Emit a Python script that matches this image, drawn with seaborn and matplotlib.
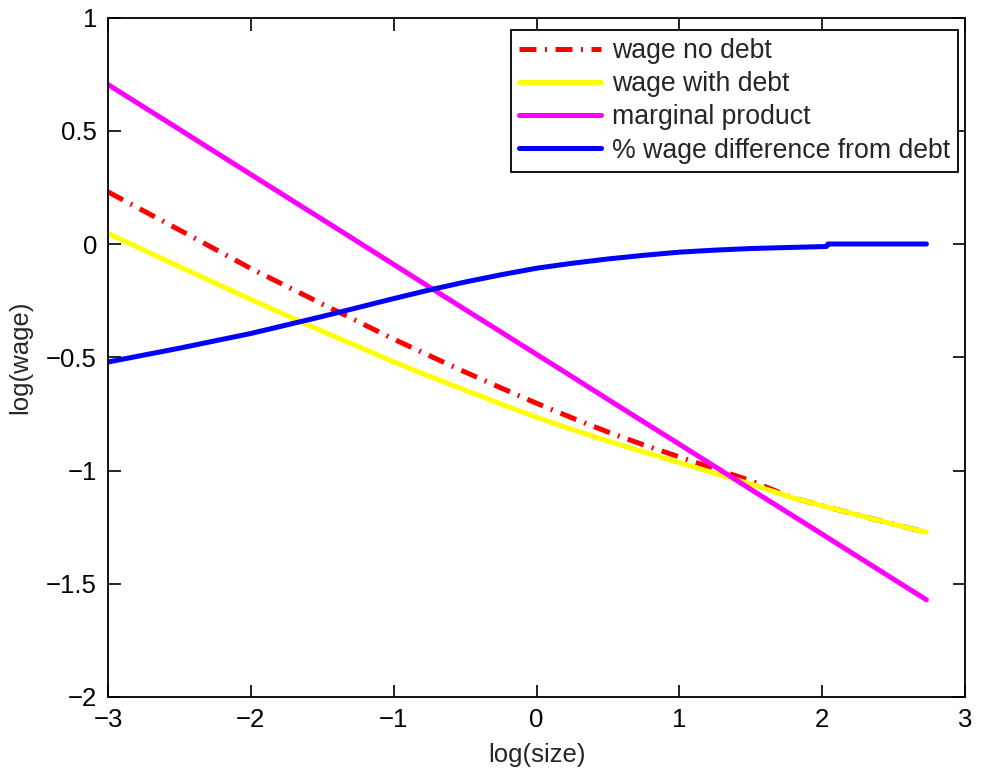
import matplotlib
matplotlib.use("Agg")
import matplotlib.pyplot as plt
import seaborn as sns
import pandas as pd

# log firm size grid
log_size = [-3.0, -2.5, -2.0, -1.5, -1.0, -0.75, -0.5, -0.25, 0.0, 0.25, 0.5, 0.75, 1.0,
            1.25, 1.5, 1.79, 2.03, 2.04, 2.5, 2.73]

# log wage series
wage_no_debt = [0.230, 0.062, -0.108, -0.265, -0.420, -0.493, -0.565, -0.635, -0.703,
                -0.768, -0.830, -0.887, -0.940, -0.993, -1.045, -1.120, -1.160, -1.162,
                -1.237, -1.273]
wage_with_debt = [0.047, -0.100, -0.245, -0.385, -0.520, -0.584, -0.645, -0.706, -0.765,
                  -0.819, -0.870, -0.918, -0.965, -1.013, -1.060, -1.120, -1.160, -1.162,
                  -1.237, -1.273]
marginal_product = [0.704, 0.506, 0.307, 0.109, -0.090, -0.190, -0.289, -0.388, -0.487,
                    -0.586, -0.686, -0.785, -0.884, -0.983, -1.083, -1.198, -1.293, -1.297,
                    -1.480, -1.571]
wage_diff_pct = [-0.521, -0.460, -0.395, -0.320, -0.241, -0.203, -0.168, -0.136, -0.107,
                 -0.085, -0.066, -0.050, -0.036, -0.027, -0.020, -0.015, -0.011, 0.0,
                 0.0, 0.0]

labels = ["wage no debt", "wage with debt", "marginal product", "% wage difference from debt"]
x_ticks = [-3, -2, -1, 0, 1, 2, 3]
y_ticks = [-2, -1.5, -1, -0.5, 0, 0.5, 1]

df = pd.DataFrame({
    "log_size": log_size,
    labels[0]: wage_no_debt,
    labels[1]: wage_with_debt,
    labels[2]: marginal_product,
    labels[3]: wage_diff_pct,
})

sns.set_theme(style="white")
plt.rcParams["font.family"] = ["Liberation Sans", "DejaVu Sans"]
plt.rcParams["axes.unicode_minus"] = True

fig = plt.figure(figsize=(9.82, 7.74), dpi=100)
ax = fig.add_axes([108 / 982, 77 / 774, 857 / 982, 679.5 / 774])

lw = 3.6
sns.lineplot(data=df, x="log_size", y=labels[0], ax=ax, color=(1, 0, 0), lw=lw,
             label=labels[0], linestyle=(0, (3.4, 1.7, 0.4, 1.7)))
sns.lineplot(data=df, x="log_size", y=labels[1], ax=ax, color=(1, 1, 0), lw=lw,
             label=labels[1])
sns.lineplot(data=df, x="log_size", y=labels[2], ax=ax, color=(1, 0, 1), lw=lw,
             label=labels[2])
sns.lineplot(data=df, x="log_size", y=labels[3], ax=ax, color=(0, 0, 1), lw=lw,
             label=labels[3])

ax.set_xlim(-3, 3)
ax.set_ylim(-2, 1)
ax.set_xticks(x_ticks)
ax.set_yticks(y_ticks)
ax.set_xticklabels([f"{t:g}".replace("-", "\u2212") for t in x_ticks])
ax.set_yticklabels([f"{t:g}".replace("-", "\u2212") for t in y_ticks])

ax.tick_params(direction="in", length=9, width=1.2, colors="black", labelsize=18.5,
               top=True, right=True, bottom=True, left=True, pad=8)
for s in ax.spines.values():
    s.set_visible(True)
    s.set_color("black")
    s.set_linewidth(1.3)

ax.set_xlabel("log(size)", fontsize=18.5, labelpad=8)
ax.set_ylabel("log(wage)", fontsize=18.5, labelpad=10)
ax.grid(False)
ax.set_facecolor("white")

leg = ax.legend(loc="upper right", bbox_to_anchor=(0.9918, 0.9816), borderaxespad=0,
                fontsize=19.2, frameon=True, fancybox=False, framealpha=1,
                edgecolor="black", handlelength=3.1, handletextpad=0.4,
                labelspacing=0.27, borderpad=0.3)
leg.get_frame().set_linewidth(1.3)

fig.savefig("out.png", dpi=100, facecolor="white")
